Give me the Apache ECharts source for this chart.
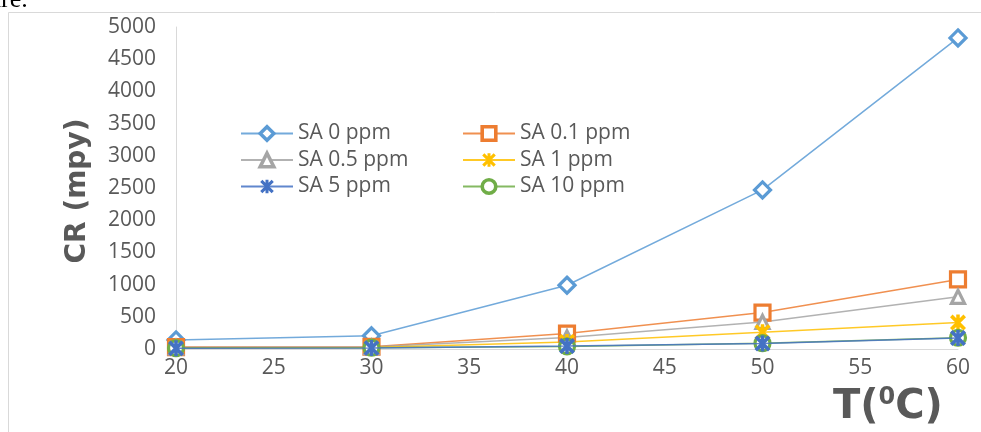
<!DOCTYPE html>
<html>
<head>
<meta charset="utf-8">
<script src="https://cdn.jsdelivr.net/npm/echarts@6/dist/echarts.min.js"></script>
<style>
  html, body { margin: 0; padding: 0; background: #fff; }
  #chart { width: 981px; height: 432px; }
</style>
</head>
<body>
<div id="chart"></div>
<script>
// ---- data ----
const temperatures = [20, 30, 40, 50, 60];
const seriesNames = ['SA 0 ppm', 'SA 0.1 ppm', 'SA 0.5 ppm', 'SA 1 ppm', 'SA 5 ppm', 'SA 10 ppm'];
const sa0 = [140, 205, 990, 2470, 4830];
const sa01 = [30, 35, 240, 565, 1080];
const sa05 = [25, 30, 180, 420, 810];
const sa1 = [20, 25, 110, 260, 410];
const sa5 = [10, 15, 45, 85, 170];
const sa10 = [15, 20, 40, 90, 175];
const yTicks = [0, 500, 1000, 1500, 2000, 2500, 3000, 3500, 4000, 4500, 5000];
const xTicks = [20, 25, 30, 35, 40, 45, 50, 55, 60];

const values = [sa0, sa01, sa05, sa1, sa5, sa10];
const colors = ['#5B9BD5', '#ED7D31', '#A5A5A5', '#FFC000', '#4472C4', '#70AD47'];
const asterisk = 'path://M3.9 0 L6.1 0 L6.1 10 L3.9 10 Z M0 1.6 L1.6 0 L10 8.4 L8.4 10 Z M8.4 0 L10 1.6 L1.6 10 L0 8.4 Z';
const symbols = [
  { symbol: 'diamond', size: 16, hollow: true },
  { symbol: 'rect', size: 15, hollow: true },
  { symbol: 'triangle', size: 13, hollow: true },
  { symbol: asterisk, size: 16, hollow: false },
  { symbol: asterisk, size: 16, hollow: false },
  { symbol: 'circle', size: 15, hollow: true }
];
const zOrder = [2, 2, 2, 2, 4, 3];

const textColor = '#595959';
const font = 'Open Sans';

const series = seriesNames.map((name, i) => ({
  name: name,
  type: 'line',
  z: zOrder[i],
  data: temperatures.map((t, j) => [t, values[i][j]]),
  symbol: symbols[i].symbol,
  symbolSize: symbols[i].size,
  showAllSymbol: true,
  lineStyle: { color: colors[i], width: 1.5, opacity: 0.85 },
  itemStyle: symbols[i].hollow
    ? { color: '#ffffff', borderColor: colors[i], borderWidth: 3.2 }
    : { color: colors[i], borderColor: colors[i], borderWidth: 0 },
  emphasis: { disabled: true },
  animation: false
}));

function legendItem(i) {
  return {
    name: seriesNames[i],
    itemStyle: symbols[i].hollow
      ? { color: '#ffffff', borderColor: colors[i], borderWidth: 3.6 }
      : { color: colors[i], borderWidth: 0 }
  };
}

const legendCommon = {
  orient: 'vertical',
  padding: 0,
  itemWidth: 52,
  itemHeight: 17,
  itemGap: 5.5,
  textStyle: { color: textColor, fontFamily: font, fontSize: 21, lineHeight: 21 },
  selectedMode: false
};

const chart = echarts.init(document.getElementById('chart'), null, { renderer: 'canvas' });
chart.setOption({
  animation: false,
  backgroundColor: '#ffffff',
  color: colors,
  grid: { left: 176, right: 23, top: 27, bottom: 83, containLabel: false },
  xAxis: {
    type: 'value',
    min: 20, max: 60, interval: 5,
    axisLine: { show: true, lineStyle: { color: '#D9D9D9', width: 1 } },
    axisTick: { show: false },
    splitLine: { show: false },
    axisLabel: {
      color: textColor, fontFamily: font, fontSize: 21, margin: 9,
      formatter: v => (xTicks.indexOf(v) >= 0 ? String(v) : '')
    }
  },
  yAxis: {
    type: 'value',
    min: 0, max: 5000, interval: 500,
    axisLine: { show: true, lineStyle: { color: '#D9D9D9', width: 1 } },
    axisTick: { show: false },
    splitLine: { show: false },
    axisLabel: {
      color: textColor, fontFamily: font, fontSize: 21, margin: 20,
      formatter: v => (yTicks.indexOf(v) >= 0 ? String(v) : '')
    }
  },
  legend: [
    Object.assign({}, legendCommon, { data: [legendItem(0), legendItem(2), legendItem(4)], left: 240, top: 123 }),
    Object.assign({}, legendCommon, { data: [legendItem(1), legendItem(3), legendItem(5)], left: 462, top: 123 })
  ],
  graphic: [
    {
      type: 'rect', silent: true, z: -1,
      shape: { x: 8.5, y: 12.5, width: 1000, height: 500 },
      style: { fill: 'none', stroke: '#D9D9D9', lineWidth: 1 }
    },
    {
      type: 'text', silent: true,
      x: -12, y: -13,
      style: { text: 'ure.', fill: '#000', font: '26px "Liberation Serif"', textVerticalAlign: 'top' }
    },
    {
      type: 'text', silent: true,
      x: 78, y: 191, rotation: Math.PI / 2,
      style: {
        text: 'CR (mpy)', fill: textColor,
        font: 'bold 28px "DejaVu Sans"',
        textAlign: 'center', textVerticalAlign: 'middle'
      }
    },
    {
      type: 'text', silent: true,
      x: 833, y: 386,
      style: {
        text: '{a|T(}{b|0}{a|C)}',
        fill: textColor,
        textVerticalAlign: 'top',
        rich: {
          a: { fontFamily: 'DejaVu Sans', fontWeight: 'bold', fontSize: 40, fill: textColor, color: textColor, lineHeight: 44 },
          b: { fontFamily: 'DejaVu Sans', fontWeight: 'bold', fontSize: 24, fill: textColor, color: textColor, verticalAlign: 'top', lineHeight: 34 }
        }
      }
    }
  ],
  series: series
});
</script>
</body>
</html>
